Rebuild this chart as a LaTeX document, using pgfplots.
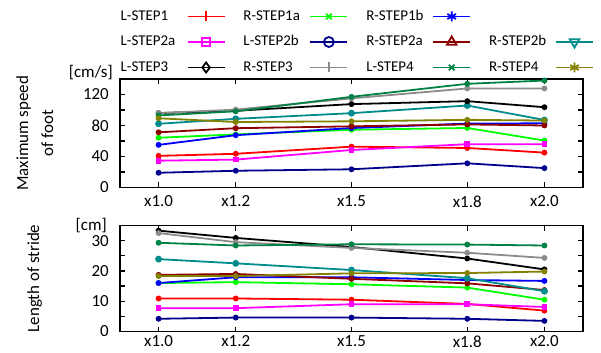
\documentclass[border=0pt]{standalone}
\usepackage{pgfplots}
\pgfplotsset{compat=1.18}
\usepackage{fontspec}
\setmainfont{Carlito}
\definecolor{cLone}{RGB}{255,0,0}
\definecolor{cRonea}{RGB}{0,255,0}
\definecolor{cRoneb}{RGB}{0,0,255}
\definecolor{cLtwoa}{RGB}{255,0,255}
\definecolor{cLtwob}{RGB}{0,0,140}
\definecolor{cRtwoa}{RGB}{140,0,0}
\definecolor{cRtwob}{RGB}{0,140,140}
\definecolor{cLthree}{RGB}{0,0,0}
\definecolor{cRthree}{RGB}{140,140,140}
\definecolor{cLfour}{RGB}{0,130,70}
\definecolor{cRfour}{RGB}{130,130,0}
\pgfplotsset{
  base/.style={line width=1.8bp, mark size=2bp, solid, mark options={solid}},
  sLone/.style={base, color=cLone, mark=*, legend image post style={mark=+, mark size=5bp}},
  sRonea/.style={base, color=cRonea, mark=*, legend image post style={mark=x, mark size=4bp}},
  sRoneb/.style={base, color=cRoneb, mark=*, legend image post style={mark=asterisk, mark size=5bp}},
  sLtwoa/.style={base, color=cLtwoa, mark=square*, legend image post style={mark=square, mark size=4bp}},
  sLtwob/.style={base, color=cLtwob, mark=*, legend image post style={mark=o, mark size=5bp}},
  sRtwoa/.style={base, color=cRtwoa, mark=*, legend image post style={mark=triangle, mark size=5.5bp}},
  sRtwob/.style={base, color=cRtwob, mark=*, mark size=2.5bp, legend image post style={mark=triangle, mark size=5.5bp, mark options={rotate=180}}},
  sLthree/.style={base, color=cLthree, mark=*, legend image post style={mark=diamond, mark size=5bp}},
  sRthree/.style={base, color=cRthree, mark=*, legend image post style={mark=+, mark size=5bp}},
  sLfour/.style={base, color=cLfour, mark=*, legend image post style={mark=x, mark size=4bp}},
  sRfour/.style={base, color=cRfour, mark=*, legend image post style={mark=asterisk, mark size=5bp}},
  common/.style={
    scale only axis, width=463bp, anchor=south west,
    xmin=0.9, xmax=2.1,
    xtick={1,1.2,1.5,1.8,2}, xticklabels={x1.0,x1.2,x1.5,x1.8,x2.0},
    tick align=inside, xtick pos=both, ytick pos=both,
    major tick length=5bp, minor tick length=5bp,
    tick style={line width=1.2bp, black},
    axis line style={line width=1.6bp},
    every tick label/.append style={font=\fontsize{17}{20}\selectfont},
    /pgf/number format/assume math mode=true,
    yticklabel style={inner sep=0pt, xshift=-11bp},
    xticklabel style={inner sep=0pt, text depth=0pt, yshift=-8bp},
    ylabel style={align=center, at={(axis description cs:-0.184,0.5)}, anchor=center, font=\fontsize{17}{25}\selectfont},
    minor y tick num=1,
  },
}
\begin{document}
\begin{tikzpicture}
\path[use as bounding box] (0bp,0bp) rectangle (601bp,353bp);
\begin{axis}[common, at={(120bp,165.5bp)}, height=108.5bp,
  ymin=0, ymax=140, ytick={0,40,80,120},
  ylabel={Maximum speed\\of foot},
  legend columns=4, legend plot pos=right, legend cell align=left,
  legend image code/.code={\draw[mark repeat=2,mark phase=2,#1] plot coordinates {(0bp,0bp)(18.5bp,0bp)(37bp,0bp)};},
  legend style={at={(axis description cs:0.0015,1.6406)}, anchor=north west, draw=none, fill=none,
    inner sep=0pt, outer sep=0pt, font=\fontsize{15}{18}\selectfont,
    column sep=0pt, row sep=11.5bp,
    /tikz/every even column/.append style={column sep=18bp},
    nodes={inner sep=0pt, text width=66bp, text height=11bp, text depth=3bp}},
]
\addplot[sLone] coordinates {(1.0,40.8) (1.2,43.5) (1.5,52.7) (1.8,51.0) (2.0,45.0)};
\addlegendentry{L-STEP1}
\addplot[sRonea] coordinates {(1.0,64.2) (1.2,68.5) (1.5,74.5) (1.8,76.8) (2.0,60.6)};
\addlegendentry{R-STEP1a}
\addplot[sRoneb] coordinates {(1.0,55.0) (1.2,67.5) (1.5,76.7) (1.8,82.5) (2.0,82.8)};
\addlegendentry{R-STEP1b}
\addlegendimage{empty legend}
\addlegendentry{}
\addplot[sLtwoa] coordinates {(1.0,34.6) (1.2,36.0) (1.5,48.4) (1.8,55.9) (2.0,55.9)};
\addlegendentry{L-STEP2a}
\addplot[sLtwob] coordinates {(1.0,19.0) (1.2,21.6) (1.5,23.5) (1.8,31.2) (2.0,25.0)};
\addlegendentry{L-STEP2b}
\addplot[sRtwoa] coordinates {(1.0,71.2) (1.2,76.5) (1.5,78.9) (1.8,81.4) (2.0,80.0)};
\addlegendentry{R-STEP2a}
\addplot[sRtwob] coordinates {(1.0,82.2) (1.2,88.6) (1.5,95.9) (1.8,105.8) (2.0,87.1)};
\addlegendentry{R-STEP2b}
\addplot[sLthree] coordinates {(1.0,96.0) (1.2,99.0) (1.5,107.6) (1.8,111.4) (2.0,103.6)};
\addlegendentry{L-STEP3}
\addplot[sRthree] coordinates {(1.0,96.0) (1.2,100.5) (1.5,115.0) (1.8,127.8) (2.0,127.8)};
\addlegendentry{R-STEP3}
\addplot[sLfour] coordinates {(1.0,93.0) (1.2,98.3) (1.5,117.0) (1.8,133.8) (2.0,138.0)};
\addlegendentry{L-STEP4}
\addplot[sRfour] coordinates {(1.0,89.3) (1.2,84.5) (1.5,85.4) (1.8,87.3) (2.0,86.4)};
\addlegendentry{R-STEP4}
\end{axis}
\begin{axis}[common, at={(120bp,21.5bp)}, height=106bp,
  ymin=0, ymax=35, ytick={0,10,20,30},
  ylabel={Length of stride},
  xticklabel style={yshift=4bp},
]
\addplot[sLone] coordinates {(1.0,10.9) (1.2,10.9) (1.5,10.5) (1.8,9.1) (2.0,6.9)};
\addplot[sRonea] coordinates {(1.0,16.0) (1.2,16.3) (1.5,15.6) (1.8,14.5) (2.0,10.5)};
\addplot[sRoneb] coordinates {(1.0,16.0) (1.2,17.9) (1.5,17.9) (1.8,17.0) (2.0,16.7)};
\addplot[sLtwoa] coordinates {(1.0,7.7) (1.2,7.7) (1.5,9.0) (1.8,9.0) (2.0,8.1)};
\addplot[sLtwob] coordinates {(1.0,4.2) (1.2,4.6) (1.5,4.6) (1.8,4.2) (2.0,3.5)};
\addplot[sRtwoa] coordinates {(1.0,18.7) (1.2,19.0) (1.5,17.4) (1.8,15.9) (2.0,13.7)};
\addplot[sRtwob] coordinates {(1.0,23.9) (1.2,22.5) (1.5,20.3) (1.8,17.6) (2.0,13.3)};
\addplot[sLthree] coordinates {(1.0,33.3) (1.2,30.9) (1.5,27.9) (1.8,24.1) (2.0,20.5)};
\addplot[sRthree] coordinates {(1.0,32.5) (1.2,29.5) (1.5,27.6) (1.8,26.0) (2.0,24.3)};
\addplot[sLfour] coordinates {(1.0,29.3) (1.2,28.4) (1.5,28.8) (1.8,28.7) (2.0,28.4)};
\addplot[sRfour] coordinates {(1.0,18.3) (1.2,18.3) (1.5,19.2) (1.8,19.3) (2.0,19.8)};
\end{axis}
\node[anchor=east, inner sep=0pt, font=\fontsize{17}{20}\selectfont] at (113bp,280bp) {[cm/s]};
\node[anchor=east, inner sep=0pt, font=\fontsize{17}{20}\selectfont] at (107bp,127bp) {[cm]};
\end{tikzpicture}
\end{document}
